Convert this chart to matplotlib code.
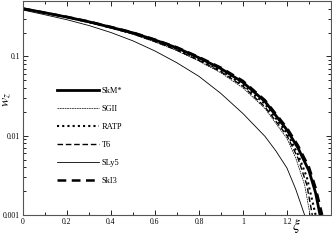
import matplotlib
matplotlib.use("Agg")
import matplotlib.pyplot as plt
from matplotlib.ticker import FixedLocator, MultipleLocator, LogLocator, NullFormatter

plt.rcParams['font.family'] = ['Liberation Serif', 'DejaVu Serif']
plt.rcParams['mathtext.fontset'] = 'stix'

# values (xi, w_z)
xi_skm = [0, 0.1, 0.2, 0.3, 0.4, 0.5, 0.6, 0.7, 0.8, 0.9, 1.0, 1.1, 1.2, 1.25, 1.3, 1.33, 1.35]
w_skm = [0.40, 0.355, 0.313, 0.273, 0.233, 0.198, 0.161, 0.128, 0.096, 0.070, 0.047, 0.027, 0.0118, 0.0070, 0.0036, 0.0019, 0.001]

xi_sgii = [0, 0.1, 0.2, 0.3, 0.4, 0.5, 0.6, 0.7, 0.8, 0.9, 1.0, 1.1, 1.2, 1.24, 1.28, 1.305]
w_sgii = [0.40, 0.352, 0.310, 0.268, 0.228, 0.190, 0.152, 0.118, 0.087, 0.062, 0.040, 0.022, 0.0092, 0.0052, 0.0024, 0.001]

xi_ratp = [0, 0.1, 0.2, 0.3, 0.4, 0.5, 0.6, 0.7, 0.8, 0.9, 1.0, 1.1, 1.2, 1.25, 1.29, 1.33]
w_ratp = [0.40, 0.354, 0.312, 0.271, 0.231, 0.195, 0.157, 0.123, 0.092, 0.066, 0.044, 0.025, 0.0108, 0.0058, 0.0030, 0.001]

xi_t6 = [0, 0.1, 0.2, 0.3, 0.4, 0.5, 0.6, 0.7, 0.8, 0.9, 1.0, 1.1, 1.2, 1.25, 1.29, 1.315]
w_t6 = [0.40, 0.353, 0.311, 0.269, 0.229, 0.192, 0.154, 0.120, 0.089, 0.064, 0.042, 0.023, 0.0100, 0.0052, 0.0024, 0.001]

xi_sly5 = [0, 0.1, 0.2, 0.3, 0.4, 0.5, 0.6, 0.7, 0.8, 0.9, 1.0, 1.1, 1.15, 1.2, 1.24, 1.28]
w_sly5 = [0.385, 0.335, 0.290, 0.245, 0.200, 0.157, 0.117, 0.083, 0.056, 0.034, 0.019, 0.0098, 0.0064, 0.0039, 0.0021, 0.001]

xi_ski3 = [0, 0.1, 0.2, 0.3, 0.4, 0.5, 0.6, 0.7, 0.8, 0.9, 1.0, 1.1, 1.2, 1.25, 1.3, 1.33, 1.36]
w_ski3 = [0.40, 0.355, 0.315, 0.275, 0.235, 0.200, 0.163, 0.130, 0.098, 0.072, 0.049, 0.028, 0.0125, 0.0075, 0.0040, 0.0022, 0.001]

fig = plt.figure(figsize=(3.32, 2.41), dpi=100)
ax = fig.add_axes([0.069, 0.108, 0.928, 0.888])

ax.plot(xi_skm, w_skm, color="black", lw=2.0, label="SkM*")
ax.plot(xi_sgii, w_sgii, color="black", lw=0.5, dashes=(2.5, 1), label="SGII")
ax.plot(xi_ratp, w_ratp, color="black", lw=1.5, dashes=(1, 1.5), label="RATP")
ax.plot(xi_t6, w_t6, color="black", lw=1.0, dashes=(4, 2), label="T6")
ax.plot(xi_sly5, w_sly5, color="black", lw=0.6, label="SLy5")
ax.plot(xi_ski3, w_ski3, color="black", lw=1.8, dashes=(3.5, 2.2), label="SkI3")

ax.set_yscale("log")
ax.set_xlim(0, 1.4)
ax.set_ylim(0.001, 0.5)

ax.xaxis.set_major_locator(FixedLocator([0, 0.2, 0.4, 0.6, 0.8, 1.0, 1.2]))
ax.xaxis.set_minor_locator(MultipleLocator(0.1))
ax.set_xticklabels(["0", "0.2", "0.4", "0.6", "0.8", "1", "1.2"])
ax.yaxis.set_major_locator(FixedLocator([0.001, 0.01, 0.1]))
ax.set_yticklabels(["0.001", "0.01", "0.1"])
ax.yaxis.set_minor_locator(LogLocator(base=10, subs=[2, 3, 4, 5, 6, 7, 8, 9]))
ax.yaxis.set_minor_formatter(NullFormatter())

ax.tick_params(which="both", direction="in", top=True, right=True, labelsize=5.5, width=0.6, pad=2)
ax.tick_params(which="major", length=3.5)
ax.tick_params(which="minor", length=2)
for s in ax.spines.values():
    s.set_linewidth(0.8)
    s.set_color("#555555")

ax.set_xlabel(r"$\xi$", fontsize=11, labelpad=0)
ax.xaxis.set_label_coords(1.245 / 1.4, -0.01)
ax.set_ylabel(r"$w_z$", fontsize=10, labelpad=0)
ax.yaxis.set_label_coords(-0.032, 0.54)

ax.legend(loc="upper left", bbox_to_anchor=(0.097, 0.619), frameon=False, fontsize=6,
          handlelength=5.0, handletextpad=0.4, labelspacing=1.2, borderpad=0)

fig.savefig("out.png", dpi=100)
